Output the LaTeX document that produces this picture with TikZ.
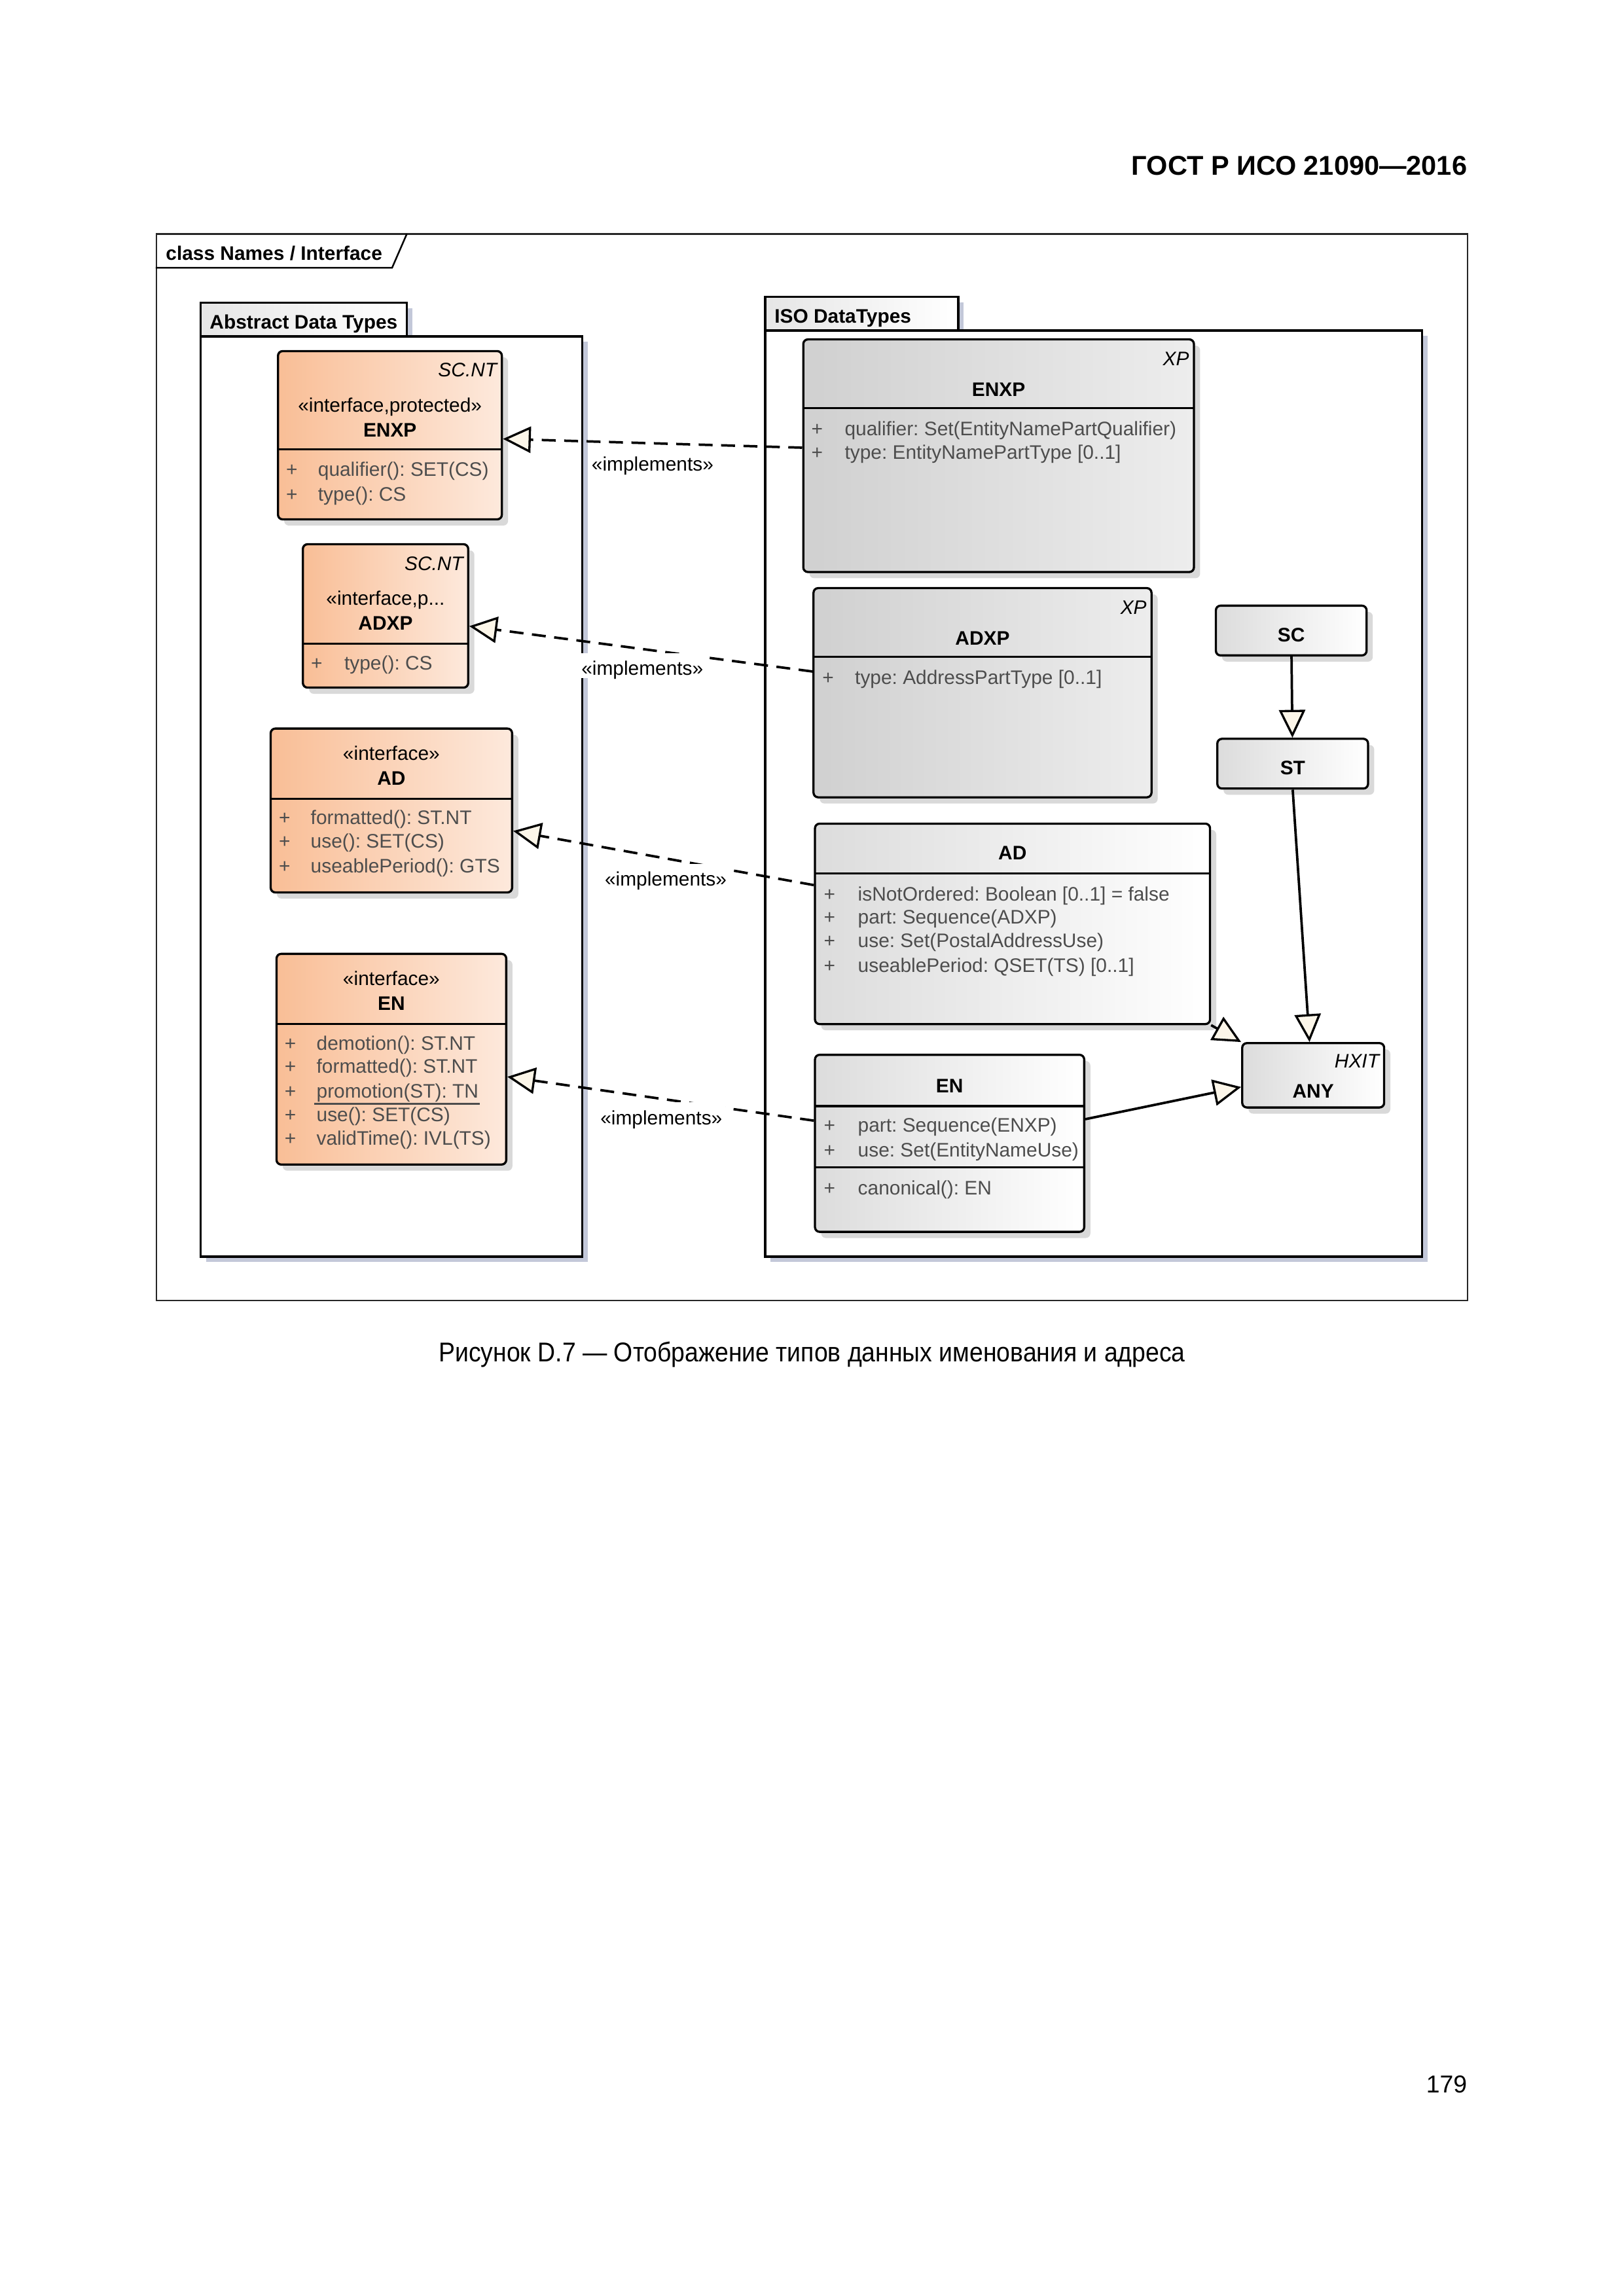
\documentclass[tikz,border=0pt]{standalone}
\usepackage{fontspec}
\setmainfont{Liberation Sans}
\newfontfamily\captionfont[FakeStretch=0.9]{Liberation Sans}
\usetikzlibrary{arrows.meta,fit,shadows}
\frenchspacing

\definecolor{ifaceleft}{HTML}{F9BE96}
\definecolor{ifaceright}{HTML}{FDE9DC}
\definecolor{xpleft}{HTML}{D0D0D0}
\definecolor{xpright}{HTML}{EDEDED}
\definecolor{clsleft}{HTML}{DCDCDC}
\definecolor{clsright}{HTML}{FFFFFF}
\definecolor{tipfill}{HTML}{FCF6E9}
\definecolor{pkgshadow}{HTML}{C3C8D9}
\definecolor{boxshadow}{HTML}{D9D9D9}
\definecolor{attrgray}{HTML}{4D4D4D}

\begin{document}
\begin{tikzpicture}[x=0.18925mm,y=-0.18925mm,font=\fontsize{7.2}{8.6}\selectfont,
  classbox/.style={draw=black,line width=0.8pt,rounded corners=0.6mm,inner sep=0pt,drop shadow={shadow xshift=0.8mm,shadow yshift=-0.8mm,fill=boxshadow,opacity=1}},
  ifacebox/.style={classbox,left color=ifaceleft,right color=ifaceright},
  xpbox/.style={classbox,left color=xpleft,right color=xpright},
  plainbox/.style={classbox,left color=clsleft,right color=clsright},
  pkgbody/.style={draw=black,line width=0.8pt,fill=white,inner sep=0pt,drop shadow={shadow xshift=0.7mm,shadow yshift=-0.7mm,fill=pkgshadow,opacity=1}},
  pkgtab/.style={pkgbody,left color=black!10,right color=white},
  txt/.style={inner sep=0pt,text height=0.72em,text depth=0pt},
  cname/.style={txt,font=\fontsize{7.2}{8.6}\selectfont\bfseries},
  tagv/.style={txt,anchor=east,font=\fontsize{7.2}{8.6}\selectfont\itshape},
  plus/.style={txt,text=attrgray},
  attr/.style={txt,anchor=west,text=attrgray},
  lbl/.style={txt,fill=white,inner sep=1pt},
  sep/.style={line width=0.8pt},
  realize/.style={line width=0.9pt,dash pattern=on 1.8mm off 1.1mm,-{Triangle[length=3.6mm,width=3.4mm,fill=tipfill,line width=0.8pt]}},
  generalize/.style={line width=0.9pt,-{Triangle[length=3.6mm,width=3.4mm,fill=tipfill,line width=0.8pt]}}]

\useasboundingbox (0,0) rectangle (1109.6,1569.4);

% page header
\node[txt,anchor=east,font=\fontsize{10}{12}\selectfont\bfseries] (head) at (1003,113) {ГОСТ Р ИСО 21090—2016};

% diagram frame
\node[draw=black!85,line width=0.6pt,inner sep=0pt,fit={(107,160) (1003,889)}] (frame) {};
\draw[line width=0.6pt] (frame.north west |- 0,183) -- (268,183) -- (278,160);
\node[txt,anchor=west,font=\fontsize{7.2}{8.6}\selectfont\bfseries] (framename) at (113,171) {class Names / Interface};

% packages
\node[pkgtab,fit={(137,207) (278,230)}] (adttab) {};
\node[pkgbody,fit={(137,230) (398,859)}] (adt) {};
\node[txt,anchor=west,font=\fontsize{7.2}{8.6}\selectfont\bfseries] (adtname) at (143,218) {Abstract Data Types};

\node[pkgtab,fit={(523,203) (655,226)}] (isotab) {};
\node[pkgbody,fit={(523,226) (972,859)}] (iso) {};
\node[txt,anchor=west,font=\fontsize{7.2}{8.6}\selectfont\bfseries] (isoname) at (529,214) {ISO DataTypes};

% interfaces
\node[ifacebox,fit={(190,240) (343,355)}] (iENXP) {};
\node[tagv] (iENXP-tag) at (340,251) {SC.NT};
\node[txt] (iENXP-st) at (266.5,275) {«interface,protected»};
\node[cname] (iENXP-n) at (266.5,292) {ENXP};
\draw[sep] (190,307) -- (343,307);
\node[plus] (iENXP-p1) at (199.5,319) {+};
\node[attr] (iENXP-a1) at (217,319) {qualifier(): SET(CS)};
\node[plus] (iENXP-p2) at (199.5,336) {+};
\node[attr] (iENXP-a2) at (217,336) {type(): CS};

\node[ifacebox,fit={(207,372) (320,470)}] (iADXP) {};
\node[tagv] (iADXP-tag) at (317,383) {SC.NT};
\node[txt] (iADXP-st) at (263.5,407) {«interface,p...};
\node[cname] (iADXP-n) at (263.5,424) {ADXP};
\draw[sep] (207,440) -- (320,440);
\node[plus] (iADXP-p1) at (216.5,451) {+};
\node[attr] (iADXP-a1) at (235,451) {type(): CS};

\node[ifacebox,fit={(185,498) (350,610)}] (iAD) {};
\node[txt] (iAD-st) at (267.5,513) {«interface»};
\node[cname] (iAD-n) at (267.5,530) {AD};
\draw[sep] (185,546) -- (350,546);
\node[plus] (iAD-p1) at (194.5,557) {+};
\node[attr] (iAD-a1) at (212,557) {formatted(): ST.NT};
\node[plus] (iAD-p2) at (194.5,573) {+};
\node[attr] (iAD-a2) at (212,573) {use(): SET(CS)};
\node[plus] (iAD-p3) at (194.5,590) {+};
\node[attr] (iAD-a3) at (212,590) {useablePeriod(): GTS};

\node[ifacebox,fit={(189,652) (346,796)}] (iEN) {};
\node[txt] (iEN-st) at (267.5,667) {«interface»};
\node[cname] (iEN-n) at (267.5,684) {EN};
\draw[sep] (189,700) -- (346,700);
\node[plus] (iEN-p1) at (198.5,711) {+};
\node[attr] (iEN-a1) at (216,711) {demotion(): ST.NT};
\node[plus] (iEN-p2) at (198.5,727) {+};
\node[attr] (iEN-a2) at (216,727) {formatted(): ST.NT};
\node[plus] (iEN-p3) at (198.5,744) {+};
\node[attr] (iEN-a3) at (216,744) {promotion(ST): TN};
\draw[line width=0.7pt,attrgray] ([xshift=-0.2mm,yshift=-0.65mm]iEN-a3.south west) -- ([xshift=0.1mm,yshift=-0.65mm]iEN-a3.south east);
\node[plus] (iEN-p4) at (198.5,760) {+};
\node[attr] (iEN-a4) at (216,760) {use(): SET(CS)};
\node[plus] (iEN-p5) at (198.5,776) {+};
\node[attr] (iEN-a5) at (216,776) {validTime(): IVL(TS)};

% iso data types
\node[xpbox,fit={(549,232) (816,391)}] (xENXP) {};
\node[tagv] (xENXP-tag) at (813,243) {XP};
\node[cname] (xENXP-n) at (682.5,264) {ENXP};
\draw[sep] (549,279) -- (816,279);
\node[plus] (xENXP-p1) at (558.5,291) {+};
\node[attr] (xENXP-a1) at (577,291) {qualifier: Set(EntityNamePartQualifier)};
\node[plus] (xENXP-p2) at (558.5,307) {+};
\node[attr] (xENXP-a2) at (577,307) {type: EntityNamePartType [0..1]};

\node[xpbox,fit={(556,402) (787,545)}] (xADXP) {};
\node[tagv] (xADXP-tag) at (784,413) {XP};
\node[cname] (xADXP-n) at (671.5,434) {ADXP};
\draw[sep] (556,449) -- (787,449);
\node[plus] (xADXP-p1) at (566,461) {+};
\node[attr] (xADXP-a1) at (584,461) {type: AddressPartType [0..1]};

\node[plainbox,fit={(557,563) (827,700)}] (xAD) {};
\node[cname] (xAD-n) at (692,581) {AD};
\draw[sep] (557,597) -- (827,597);
\node[plus] (xAD-p1) at (567,609) {+};
\node[attr] (xAD-a1) at (586,609) {isNotOrdered: Boolean [0..1] = false};
\node[plus] (xAD-p2) at (567,625) {+};
\node[attr] (xAD-a2) at (586,625) {part: Sequence(ADXP)};
\node[plus] (xAD-p3) at (567,641) {+};
\node[attr] (xAD-a3) at (586,641) {use: Set(PostalAddressUse)};
\node[plus] (xAD-p4) at (567,658) {+};
\node[attr] (xAD-a4) at (586,658) {useablePeriod: QSET(TS) [0..1]};

\node[plainbox,fit={(557,721) (741,842)}] (xEN) {};
\node[cname] (xEN-n) at (649,740) {EN};
\draw[sep] (557,756) -- (741,756);
\node[plus] (xEN-p1) at (567,767) {+};
\node[attr] (xEN-a1) at (586,767) {part: Sequence(ENXP)};
\node[plus] (xEN-p2) at (567,784) {+};
\node[attr] (xEN-a2) at (586,784) {use: Set(EntityNameUse)};
\draw[sep] (557,798) -- (741,798);
\node[plus] (xEN-p3) at (567,810) {+};
\node[attr] (xEN-a3) at (586,810) {canonical(): EN};

\node[plainbox,fit={(831,414) (934,448)}] (SC) {};
\node[cname] (SC-n) at (882.5,432) {SC};
\node[plainbox,fit={(832,505) (935,539)}] (ST) {};
\node[cname] (ST-n) at (883.5,523) {ST};
\node[plainbox,fit={(849,713) (946,757)}] (ANY) {};
\node[tagv] (ANY-tag) at (943,723) {HXIT};
\node[cname] (ANY-n) at (897.5,744) {ANY};

% realizations
\draw[realize] (xENXP.west |- 0,306) -- (iENXP.east |- 0,300);
\draw[realize] (xADXP.west |- 0,459) -- (iADXP.east |- 0,428);
\draw[realize] (xAD.west |- 0,605) -- (iAD.east |- 0,568);
\draw[realize] (xEN.west |- 0,766) -- (iEN.east |- 0,736);
\node[lbl] (lENXP) at (446,315) {«implements»};
\node[lbl] (lADXP) at (439,455) {«implements»};
\node[lbl] (lAD) at (455,599) {«implements»};
\node[lbl] (lEN) at (452,762) {«implements»};

% generalizations
\draw[generalize] (SC) -- (ST);
\draw[generalize] (ST.south) -- (ANY.north -| 895,0);
\draw[generalize] (xAD.south east) -- (ANY.north west);
\draw[generalize] (xEN.east |- 0,765) -- (ANY.west |- 0,743);

% caption and page number
\node[font=\fontsize{10}{12}\captionfont] (caption) at (555,926) {Рисунок D.7 — Отображение типов данных именования и адреса};
\node[txt,anchor=east,font=\fontsize{9}{11}\selectfont] (pagenum) at (1003,1424) {179};

\end{tikzpicture}
\end{document}
